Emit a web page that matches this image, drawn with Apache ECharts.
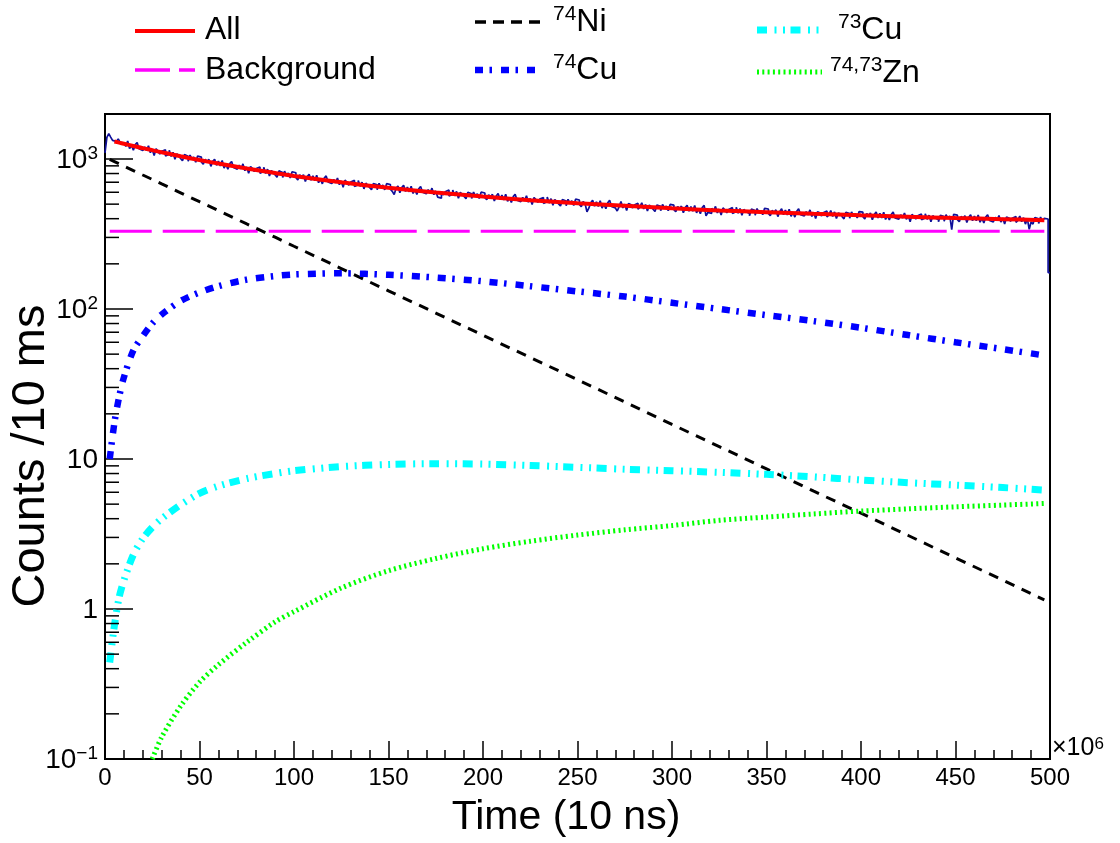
<!DOCTYPE html>
<html><head><meta charset="utf-8">
<script src="https://cdn.jsdelivr.net/npm/echarts@6/dist/echarts.min.js"></script>
<style>html,body{margin:0;padding:0;background:#fff}#c{width:1120px;height:843px}</style>
</head><body><div id="c"></div>
<script>
const FONT = '"Liberation Sans", Arial, Helvetica, sans-serif';

// ---- data ----
const histStart = 0;
const histBinWidth = 1;
const histCounts = [
1100,1395,1475,1400,1330,1310,1325,1360,1290,1275,
1310,1214,1318,1173,1239,1145,1246,1286,1169,1138,
1118,1205,1139,1224,1102,1163,1054,1171,1129,1078,
1126,1153,1047,1074,1143,1040,1109,995,1085,1046,
1009,972,1069,1042,965,1062,995,1029,953,1046,
1030,956,922,995,961,994,893,964,996,907,
967,898,976,871,922,854,931,963,878,855,
843,909,861,928,836,884,802,892,863,825,
863,884,804,826,880,801,856,770,839,811,
784,756,833,813,754,830,778,806,748,822,
809,752,726,784,758,785,708,765,792,722,
771,716,779,695,737,683,746,771,704,686,
676,731,693,747,674,714,649,723,700,669,
702,720,656,674,720,657,701,632,690,667,
645,623,687,672,624,688,646,671,623,685,
676,629,608,580,637,660,595,644,667,608,
650,604,659,589,624,580,633,656,600,586,
578,624,593,639,578,612,557,548,602,576,
605,622,566,583,622,568,608,548,599,580,
562,543,600,587,545,602,565,587,546,601,
593,553,535,578,560,581,525,567,588,537,
574,534,583,522,553,513,561,582,532,519,
513,555,527,569,515,546,497,554,537,514,
540,554,506,521,557,508,544,491,537,519,
502,486,537,525,488,539,507,526,490,540,
533,497,481,520,504,445,470,511,531,485,
519,483,527,471,500,466,511,530,483,472,
466,450,480,520,472,500,453,505,491,470,
494,507,463,478,510,464,497,450,494,477,
462,447,494,484,451,498,470,485,452,498,
492,459,445,482,467,485,438,474,491,449,
482,448,490,438,466,432,474,491,418,440,
434,470,446,483,437,463,423,472,457,438,
461,474,433,446,477,435,467,421,461,447,
434,419,463,454,422,467,439,453,425,469,
464,433,419,454,440,458,413,447,465,425,
456,424,463,415,441,410,449,466,425,417,
411,446,424,458,414,440,401,445,433,416,
438,450,411,424,453,414,444,401,437,425,
412,399,441,432,402,444,418,432,404,446,
442,412,399,433,419,436,394,427,443,405,
434,404,441,395,420,392,427,444,405,397,
392,425,404,437,396,420,382,427,413,398,
418,430,393,405,432,396,422,382,419,406,
394,381,422,413,385,425,401,416,338,427,
423,394,382,414,401,418,377,409,425,388,
416,388,423,379,403,375,410,425,389,381,
377,409,389,420,380,404,368,410,399,383,
403,414,378,390,417,382,406,368,402,340,
380,368,407,399,372,410,386,402,398,175
];

const fitTime = [2.5,5,7.5,10,15,20,25,30,40,50,60,75,90,100,125,150,175,200,225,250,275,300,325,350,375,400,425,450,475,497];
const allFit  = [null,1308,1285,1264,1222,1181,1145,1108,1043,984,932,864,806,771,699,642,598,562,531,507,487,469,454,442,431,421,412,404,397,391];
const ni74    = [993,960,928,897,837,782,731,682,595,519,453,369,301,262,186,132,94,66.8,47.5,33.8,24.0,17.0,12.1,8.6,6.1,4.35,3.09,2.19,1.56,1.15];
const cu74    = [10,17.5,26,35,53,66,80,92,113,129,142,157,166,170,173,169,162,153,142,131,121,110,100,91,83,75,67,60,54,49];
const cu73    = [0.44,0.78,1.2,1.55,2.3,2.95,3.5,4.0,4.95,5.9,6.6,7.4,8.0,8.35,8.9,9.2,9.3,9.25,9.05,8.8,8.55,8.35,8.15,7.9,7.6,7.25,6.95,6.7,6.45,6.2];
const zn7473  = [null,null,null,null,null,null,0.1,0.14,0.225,0.325,0.425,0.6,0.82,0.96,1.38,1.8,2.17,2.52,2.83,3.11,3.37,3.6,3.9,4.1,4.3,4.5,4.65,4.8,4.93,5.05];
const bgTime  = [2.5, 497];
const bgLevel = [330, 330];

const yMin = 0.1, yMax = 1995;

// ---- build ----
const pairs = (xs, ys) => xs.map((x, i) => [x, ys[i]]);
const histData = histCounts.map((v, i) => [histStart + i * histBinWidth, v]);
histData.push([histStart + histCounts.length * histBinWidth, histCounts[histCounts.length - 1]]);

const supRich = {
  b: {fontSize: 28, fontFamily: FONT, color: '#000', lineHeight: 30, verticalAlign: 'bottom'},
  s: {fontSize: 19, fontFamily: FONT, color: '#000', lineHeight: 19, verticalAlign: 'top'}
};

const chart = echarts.init(document.getElementById('c'), null, {renderer: 'canvas'});
const grid = {left: 105, right: 70, top: 114, bottom: 84};

function lineSeries(name, data, color, width, dash, smooth, z) {
  return {
    name, type: 'line', data, showSymbol: false, symbol: 'none', smooth: smooth ? 0.3 : false,
    connectNulls: false, z,
    lineStyle: {color, width, type: dash || 'solid', cap: 'butt'},
    emphasis: {disabled: true}, silent: true
  };
}

chart.setOption({
  animation: false,
  backgroundColor: '#fff',
  grid: Object.assign({show: true, borderColor: '#000', borderWidth: 2, backgroundColor: 'transparent'}, grid),
  xAxis: {
    type: 'value', min: 0, max: 500, interval: 50,
    axisLine: {show: true, onZero: false, lineStyle: {color: '#000', width: 2}},
    axisTick: {show: true, inside: true, length: 18, lineStyle: {color: '#000', width: 1.5}},
    minorTick: {show: true, splitNumber: 5, length: 9, lineStyle: {color: '#000', width: 1.5}},
    splitLine: {show: false},
    axisLabel: {fontSize: 24, fontFamily: FONT, color: '#000', margin: 7}
  },
  yAxis: {
    type: 'log', logBase: 10, min: yMin, max: yMax,
    axisLine: {show: true, lineStyle: {color: '#000', width: 2}},
    axisTick: {show: true, inside: true, length: 28, lineStyle: {color: '#000', width: 1.5}},
    splitLine: {show: false},
    minorTick: {show: false},
    axisLabel: {
      margin: 7, color: '#000', fontFamily: FONT, fontSize: 28, rich: supRich,
      formatter: function (v) {
        const l = Math.log10(v), k = Math.round(l);
        if (Math.abs(l - k) > 1e-6) return '';
        if (k === 0) return '{b|1}';
        if (k === 1) return '{b|10}';
        return '{b|10}{s|' + (k < 0 ? '\u2212' + (-k) : k) + '}';
      }
    }
  },
  series: [
    Object.assign(lineSeries('Data', histData, '#10109a', 1.7, null, false, 2), {step: 'end'}),
    lineSeries('Background', pairs(bgTime, bgLevel), '#ff00ff', 3, [42, 11], false, 3),
    lineSeries('74Ni', pairs(fitTime, ni74), '#000000', 3, [10, 8], false, 4),
    lineSeries('74Cu', pairs(fitTime, cu74), '#0000ff', 6.5, [8, 6.5, 2.5, 9], true, 5),
    lineSeries('73Cu', pairs(fitTime, cu73), '#00ffff', 7, [10, 7.5, 2, 6.5, 2, 5.5], true, 6),
    lineSeries('74,73Zn', pairs(fitTime, zn7473), '#00ff00', 5, [2, 3.3], true, 7),
    lineSeries('All', pairs(fitTime, allFit), '#ff0000', 4, null, true, 8)
  ]
});

// ---- decorations: minor log ticks, titles, legend ----
const g = [];
const x0 = chart.convertToPixel({gridIndex: 0}, [0, 1])[0];
for (let d = -1; d <= 3; d++) {
  for (let m = 2; m <= 9; m++) {
    const v = m * Math.pow(10, d);
    if (v > yMax) continue;
    const y = chart.convertToPixel({gridIndex: 0}, [0, v])[1];
    g.push({type: 'line', silent: true, z: 50, shape: {x1: x0, y1: y, x2: x0 + 14, y2: y}, style: {stroke: '#000', lineWidth: 1.5}});
  }
}
// x10^6
g.push({type: 'text', x: 1052, y: 736, z: 50, style: {text: '\u00d710{s|6}', fontSize: 25, fontFamily: FONT, fill: '#000',
  rich: {s: {fontSize: 17, fontFamily: FONT, verticalAlign: 'top', lineHeight: 17}}}});
// axis titles
g.push({type: 'text', x: 566, y: 818, z: 50, style: {text: 'Time (10 ns)', fontSize: 41, fontFamily: FONT, fill: '#000', align: 'center', verticalAlign: 'middle'}});
g.push({type: 'text', x: 31, y: 456, rotation: Math.PI / 2, z: 50, style: {text: 'Counts /10 ms', fontSize: 47, fontFamily: FONT, fill: '#000', align: 'center', verticalAlign: 'middle'}});

// legend
const legRich = {
  b: {fontSize: 32, fontFamily: FONT, fill: '#000', color: '#000', lineHeight: 34, verticalAlign: 'bottom'},
  s: {fontSize: 21, fontFamily: FONT, fill: '#000', color: '#000', lineHeight: 21, verticalAlign: 'top'}
};
const legItems = [
  {x1: 135, x2: 195, y: 31, color: '#ff0000', w: 4, dash: null, tx: 205, ty: 29, text: '{b|All}'},
  {x1: 135, x2: 195, y: 70, color: '#ff00ff', w: 3.5, dash: [35, 9], tx: 205, ty: 69, text: '{b|Background}'},
  {x1: 475, x2: 540, y: 22, color: '#000000', w: 3.5, dash: [11, 7], tx: 553, ty: 21, text: '{s|74}{b|Ni}'},
  {x1: 475, x2: 538, y: 70, color: '#0000ff', w: 6.5, dash: [8, 6.5, 2.5, 9], tx: 553, ty: 69, text: '{s|74}{b|Cu}'},
  {x1: 757, x2: 822, y: 30, color: '#00ffff', w: 7, dash: [10, 7.5, 2, 6.5, 2, 5.5], tx: 838, ty: 29, text: '{s|73}{b|Cu}'},
  {x1: 757, x2: 822, y: 72, color: '#00ff00', w: 5, dash: [2, 3.3], tx: 830, ty: 72, text: '{s|74,73}{b|Zn}'}
];
legItems.forEach(it => {
  g.push({type: 'line', silent: true, z: 50, shape: {x1: it.x1, y1: it.y, x2: it.x2, y2: it.y},
    style: {stroke: it.color, lineWidth: it.w, lineDash: it.dash || null, lineCap: 'butt'}});
  g.push({type: 'text', silent: true, z: 50, x: it.tx, y: it.ty,
    style: {text: it.text, rich: legRich, fill: '#000', verticalAlign: 'middle', align: 'left', fontFamily: FONT}});
});
chart.setOption({graphic: g});
</script></body></html>
